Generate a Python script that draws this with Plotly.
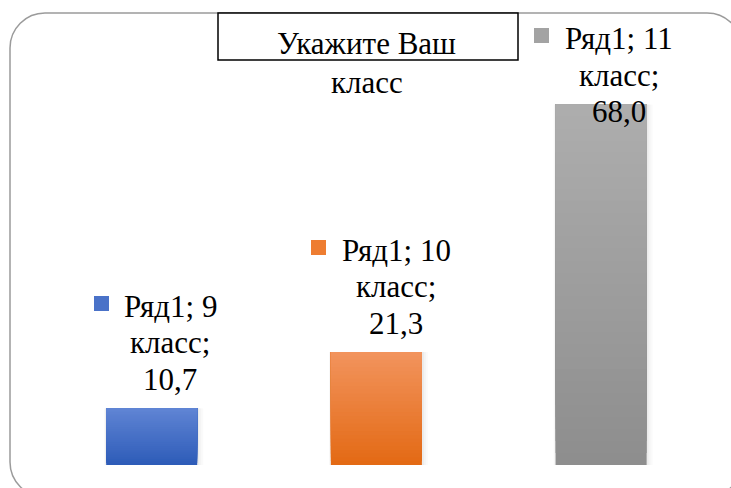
import plotly.graph_objects as go

# ---- data ----
series_name = "Ряд1"
categories = ["9 класс", "10 класс", "11 класс"]
values = [10.7, 21.3, 68.0]
title_lines = ["Укажите Ваш", "класс"]

# ---- styles ----
W, H = 731, 488
FONT = "Liberation Serif"
FS = 31
top_colors = [(95, 132, 212), (242, 147, 92), (173, 173, 173)]
bot_colors = [(46, 92, 184), (227, 106, 21), (142, 142, 142)]
key_colors = ["#4a72c8", "#ee7d31", "#a3a3a3"]
label_xshift = [18.5, 20, 18]
last_line_shift = [29, 29, -7]      # px above bar top for last label line centre
line_gap = 36.5
key_dx = [-68.5, -77.5, -78]
key_dy = 3

x_range = [-0.675, 2.578]
y_range = [-4.34, 87.74]
bar_w = 0.405

fig = go.Figure()

# soft shadow
for k, (dw, a) in enumerate([(0.036, 0.018), (0.024, 0.025), (0.012, 0.035)]):
    fig.add_trace(go.Bar(
        x=categories, y=values, width=bar_w + dw, offset=-bar_w / 2 - dw / 4,
        marker=dict(color=f"rgba(0,0,0,{a})", line=dict(width=0)),
        hoverinfo="skip", showlegend=False))

# gradient bars (drawn as overlapping slices from bottom to top)
N = 30
for i in range(N):
    t = i / (N - 1)
    cols = []
    for tc, bc in zip(top_colors, bot_colors):
        c = tuple(round(bc[j] + (tc[j] - bc[j]) * t) for j in range(3))
        cols.append("rgb(%d,%d,%d)" % c)
    fig.add_trace(go.Bar(
        x=categories,
        y=[v * (1 - i / N) for v in values],
        base=[v * i / N for v in values],
        width=bar_w,
        marker=dict(color=cols, line=dict(width=0)),
        hoverinfo="skip", showlegend=False))

annotations = []
for k, (cat, v) in enumerate(zip(categories, values)):
    num, word = cat.split(" ", 1)
    val_str = ("%.1f" % v).replace(".", ",")
    lines = [f"{series_name}; {num}", f"{word};", val_str]
    n = len(lines)
    for j, ln in enumerate(lines):
        ys = last_line_shift[k] + (n - 1 - j) * line_gap
        annotations.append(dict(
            x=cat, y=v, xref="x", yref="y", text=ln, showarrow=False,
            xanchor="center", yanchor="middle", xshift=label_xshift[k], yshift=ys,
            font=dict(family=FONT, size=FS, color="#000000")))
    first_shift = last_line_shift[k] + (n - 1) * line_gap
    annotations.append(dict(
        x=cat, y=v, xref="x", yref="y", text=" ", showarrow=False,
        xanchor="center", yanchor="middle",
        xshift=label_xshift[k] + key_dx[k], yshift=first_shift + key_dy,
        width=15, height=15, bgcolor=key_colors[k], borderpad=0, borderwidth=0,
        font=dict(size=4)))

# title
title_baselines = [53, 92]
for j, ln in enumerate(title_lines):
    annotations.append(dict(
        x=367 / W, y=1 - (title_baselines[j] - 10) / H, xref="paper", yref="paper",
        text=ln, showarrow=False, xanchor="center", yanchor="middle",
        font=dict(family=FONT, size=FS, color="#000000")))


def px(x, y):
    return x / W, 1 - y / H


def rounded_rect_path(x0, y0, x1, y1, r):
    k = 0.5523 * r
    def P(x, y):
        a, b = px(x, y)
        return f"{a:.5f},{b:.5f}"
    d = f"M {P(x0, y0 + r)} "
    d += f"C {P(x0, y0 + r - k)} {P(x0 + r - k, y0)} {P(x0 + r, y0)} "
    d += f"L {P(x1 - r, y0)} "
    d += f"C {P(x1 - r + k, y0)} {P(x1, y0 + r - k)} {P(x1, y0 + r)} "
    d += f"L {P(x1, y1 - r)} "
    d += f"C {P(x1, y1 - r + k)} {P(x1 - r + k, y1)} {P(x1 - r, y1)} "
    d += f"L {P(x0 + r, y1)} "
    d += f"C {P(x0 + r - k, y1)} {P(x0, y1 - r + k)} {P(x0, y1 - r)} Z"
    return d


shapes = [
    dict(type="path", xref="paper", yref="paper",
         path=rounded_rect_path(10, 13, 742, 497, 35),
         line=dict(color="#9b9b9b", width=1.5), fillcolor="rgba(0,0,0,0)", layer="below"),
    dict(type="rect", xref="paper", yref="paper",
         x0=218 / W, x1=518 / W, y0=1 - 60 / H, y1=1 - 13 / H,
         line=dict(color="#000000", width=1.5), fillcolor="#ffffff", layer="below"),
]

fig.update_layout(
    width=W, height=H,
    margin=dict(l=0, r=0, t=0, b=0),
    paper_bgcolor="#ffffff", plot_bgcolor="rgba(0,0,0,0)",
    barmode="overlay",
    xaxis=dict(visible=False, range=x_range, type="category"),
    yaxis=dict(visible=False, range=y_range),
    annotations=annotations, shapes=shapes,
    showlegend=False,
)

fig.write_html("out.html")
